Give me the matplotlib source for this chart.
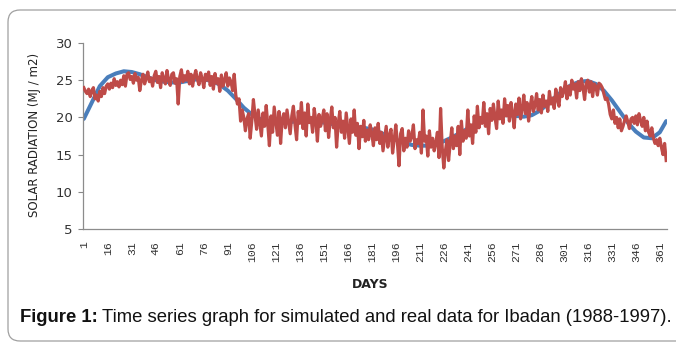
import matplotlib
matplotlib.use("Agg")
import matplotlib.pyplot as plt
from matplotlib.patches import FancyBboxPatch
from matplotlib.transforms import IdentityTransform

# Real (measured) daily solar radiation, days 1..365
real = [
    24.0, 23.5, 23.2, 23.8, 22.8, 23.6, 24.0, 22.5, 23.0, 22.2, 23.5, 22.8, 24.0, 23.2, 24.2,
    24.5, 23.8, 24.6, 24.0, 25.2, 24.3, 24.8, 24.1, 25.0, 24.4, 25.6, 24.2, 25.8, 26.0, 25.1,
    25.5, 24.6, 25.9, 25.0, 25.4, 23.6, 25.0, 25.8, 24.5, 25.2, 26.1, 24.8, 25.3, 24.2, 25.6,
    26.2, 24.7, 25.5, 24.0, 26.0, 25.2, 24.5, 26.3, 25.0, 24.3, 25.8, 26.0, 24.6, 25.2, 21.8,
    25.5, 26.4, 24.8, 25.6, 25.0, 26.2, 24.5, 25.8, 24.2, 25.5, 26.3, 25.1, 24.4, 26.0, 25.2,
    24.0, 25.8, 25.0, 26.1, 24.3, 25.5, 23.8, 25.9, 24.6, 25.2, 23.5, 25.7, 24.2, 25.0, 26.0,
    24.2, 25.3, 24.8, 23.6, 25.8, 23.0, 21.8, 22.5, 19.5, 21.0, 20.0, 18.2, 19.8, 20.5, 17.2,
    19.5, 22.4, 20.3, 18.4, 21.0, 19.2, 17.5, 20.6, 18.8, 21.6, 19.0, 16.2, 20.2, 18.0, 21.4,
    19.5, 17.6, 20.8, 16.5, 19.8, 20.5, 18.6, 21.0, 19.4, 17.8, 20.2, 21.5, 19.0, 17.0, 20.8,
    19.2, 22.0, 18.5, 20.6, 17.5, 21.8, 19.3, 20.0, 18.0, 21.2, 19.6, 16.8, 20.4, 18.8, 19.8,
    21.0, 18.2, 20.5, 17.3, 19.6, 21.4, 18.6, 20.0, 16.0, 19.2, 20.8, 18.0, 19.5, 17.2, 20.6,
    18.5, 16.5, 19.8, 18.0, 21.0, 17.6, 19.2, 15.8, 18.8, 17.4, 19.6, 16.8, 18.3, 17.0, 19.0,
    17.8, 16.2, 18.6, 17.0, 19.2, 16.5, 18.0, 15.5, 17.2, 18.8, 16.0, 17.6, 18.4, 15.2, 17.0,
    19.0, 16.6, 13.5, 17.8, 18.5, 15.5, 17.2, 16.0, 18.2, 16.8, 17.5, 19.0, 15.8, 17.0, 16.5,
    18.0, 15.2, 21.0, 16.8, 17.5, 14.8, 18.2, 16.0, 17.2, 15.5, 16.6, 18.0, 14.6, 21.2, 16.0,
    13.2, 15.5, 17.0, 14.2, 16.5, 18.6, 15.8, 17.5, 16.2, 18.8, 15.0, 19.5, 16.8, 18.2, 17.2,
    21.0, 17.5, 19.0, 16.5, 20.2, 18.0, 21.5, 18.6, 20.0, 19.2, 22.0, 18.8, 20.5, 17.8, 21.2,
    19.6, 21.8, 20.0, 18.5, 22.2, 19.8, 21.0, 19.2, 22.5, 20.2, 21.6, 19.5, 22.0, 20.6, 18.6,
    21.8, 20.4, 22.6, 19.8, 21.2, 23.0, 20.5, 22.0, 19.5, 21.5, 22.8, 20.8, 21.6, 23.2, 21.0,
    22.4, 20.6, 23.0, 21.5, 22.2, 20.8, 23.5, 21.8, 22.6, 21.2, 23.8, 22.4, 21.5, 24.0, 22.8,
    23.5, 24.8, 22.5, 24.2, 23.0, 25.0, 23.8, 24.5, 22.6, 24.8, 23.6, 25.2, 24.0, 22.4, 24.6,
    25.0, 23.4, 24.8, 22.8, 24.5, 24.2, 23.0, 24.6, 24.4, 24.0, 23.2, 22.4, 22.6, 21.8, 20.4,
    19.8, 21.0, 19.2, 20.0, 18.6, 19.8, 18.2, 18.8, 19.6, 20.2, 19.4, 18.5, 19.8, 20.0, 19.2,
    20.2, 19.0, 20.5, 19.6, 18.8, 20.0, 18.2, 19.5, 18.0, 17.5, 18.6, 17.2, 16.5, 17.0, 16.2,
    17.2, 16.0, 15.0, 16.5, 14.2,
]
real_days = list(range(1, len(real) + 1))

# Simulated series, read every 5 days
sim_days = [1, 6, 11, 16, 21, 26, 31, 36, 41, 46, 51, 56, 61, 66, 71, 76, 81, 86, 91, 96,
            101, 106, 111, 116, 121, 126, 131, 136, 141, 146, 151, 156, 161, 166, 171, 176,
            181, 186, 191, 196, 201, 206, 211, 216, 221, 226, 231, 236, 241, 246, 251, 256,
            261, 266, 271, 276, 281, 286, 291, 296, 301, 306, 311, 316, 321, 326, 331, 336,
            341, 346, 351, 356, 361, 365]
sim = [19.8, 22.0, 24.2, 25.4, 25.9, 26.2, 26.1, 25.8, 25.4, 25.0, 24.8, 24.7, 24.7, 24.9,
       25.1, 25.1, 24.9, 24.4, 23.6, 22.5, 21.3, 20.4, 19.8, 19.5, 19.4, 19.4, 19.4, 19.5,
       19.5, 19.4, 19.3, 19.1, 18.9, 18.8, 18.7, 18.6, 18.4, 18.0, 17.5, 17.0, 16.6, 16.3,
       16.2, 16.2, 16.4, 16.8, 17.3, 17.9, 18.5, 19.1, 19.7, 20.1, 20.3, 20.3, 20.2, 20.1,
       20.3, 20.9, 21.8, 22.8, 23.7, 24.4, 24.8, 24.9, 24.5, 23.6, 22.3, 20.8, 19.3, 18.1,
       17.3, 17.2, 18.0, 19.5]

xticks = list(range(1, 366, 15))
yticks = [5, 10, 15, 20, 25, 30]

fig = plt.figure(figsize=(6.76, 3.44), dpi=100)

# rounded frame (pixel coordinates)
frame = FancyBboxPatch((8, 3), 720, 331,
                       boxstyle="round,pad=0,rounding_size=12",
                       transform=IdentityTransform(), facecolor="none",
                       edgecolor="#a0a0a0", linewidth=0.9, clip_on=False)
fig.patches.append(frame)

ax = fig.add_axes([83 / 676, 1 - 229 / 344, 584 / 676, 186 / 344])
ax.plot(sim_days, sim, color="#4a7ebb", linewidth=2.9, solid_capstyle="round", zorder=2)
ax.plot(real_days, real, color="#be4b48", linewidth=2.3, zorder=3)

ax.set_xlim(0.5, 365.5)
ax.set_ylim(5, 30)
ax.set_yticks(yticks)
ax.set_xticks(xticks)
ax.set_xticklabels([str(t) for t in xticks], rotation=90, family="Liberation Mono",
                   fontsize=8.2, color="#333333")
ax.tick_params(axis="x", length=0, pad=9)
ax.tick_params(axis="y", length=3.5, color="#888888", labelsize=9.5, labelcolor="#333333", pad=4)
for s in ["top", "right"]:
    ax.spines[s].set_visible(False)
for s in ["left", "bottom"]:
    ax.spines[s].set_color("#8c8c8c")
    ax.spines[s].set_linewidth(0.9)

fig.text(35 / 676, 1 - 135 / 344, "SOLAR RADIATION (MJ / m2)", rotation=90,
         ha="center", va="center", fontsize=8.5, color="#222222")
fig.text(370 / 676, 1 - 285 / 344, "DAYS", ha="center", va="center",
         fontsize=9, fontweight="bold", color="#222222")

t1 = fig.text(20 / 676, 1 - 318 / 344, "Figure 1:", ha="left", va="center",
              fontsize=13.3, fontweight="bold", family="Liberation Sans", color="#111111")
fig.canvas.draw()
bb = t1.get_window_extent()
fig.text(bb.x1 / 676 + 4 / 676, 1 - 318 / 344,
         "Time series graph for simulated and real data for Ibadan (1988-1997).",
         ha="left", va="center", fontsize=13.3, family="Liberation Sans", color="#111111")

fig.savefig("out.png", dpi=100)
